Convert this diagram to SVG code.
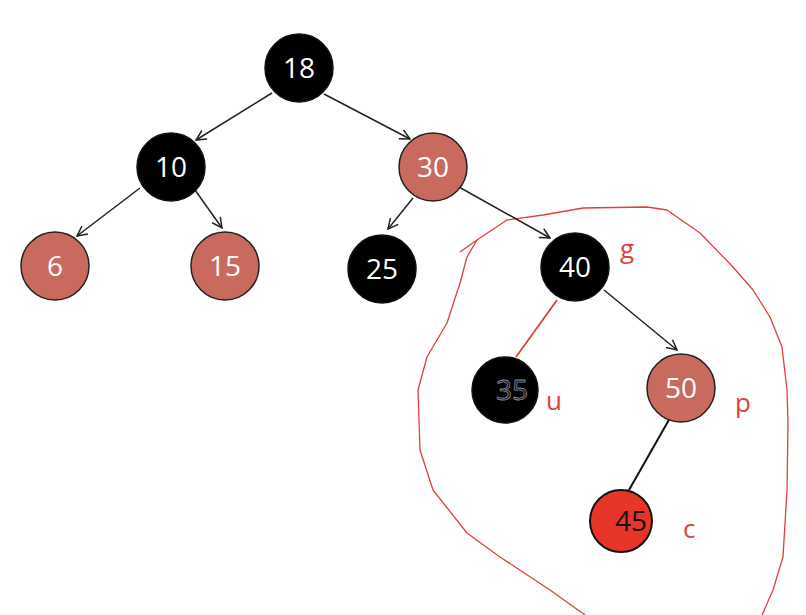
<svg xmlns="http://www.w3.org/2000/svg" width="806" height="615" viewBox="0 0 806 615">
<defs>
<marker id="arr" viewBox="0 0 12 12" refX="11" refY="6" markerWidth="12" markerHeight="12" markerUnits="userSpaceOnUse" orient="auto">
<path d="M1,1 L11,6 L1,11" fill="none" stroke="#222" stroke-width="1.5"/>
</marker>
<style>
.blk{fill:#000;stroke:#111;stroke-width:1.5}
.red{fill:#c96a5e;stroke:#222;stroke-width:1.5}
.hot{fill:#e8352a;stroke:#111;stroke-width:2}
.t{font-family:"Open Sans","Liberation Sans",sans-serif;font-size:28px;text-anchor:middle;fill:#fff}
.td{fill:#111}
.tg{fill:#111;stroke:#8a8aa0;stroke-width:0.8}
.lbl{font-family:"Open Sans","Liberation Sans",sans-serif;font-size:26px;fill:#e0403a}
.e{stroke:#222;stroke-width:1.5;fill:none}
</style>
</defs>
<rect width="806" height="615" fill="#fff"/>
<path d="M460,252 L477,240 L507,220 L543,215 L583,208 L647,207 L667,210 L700,233 L733,267 L753,290 L770,317 L782,347 L787,390 L788,423 L787,490 L783,557 L773,590 L762,615 M477,240 L467,257 L460,283 L447,323 L427,357 L418,390 L420,450 L433,490 L467,533 L500,557 L550,590 L585,615" fill="none" stroke="#e0403a" stroke-width="1.3" stroke-linejoin="round"/>
<g id="edges">
<line class="e" x1="272" y1="93" x2="196" y2="140" marker-end="url(#arr)"/>
<line class="e" x1="324" y1="94" x2="410" y2="139" marker-end="url(#arr)"/>
<line class="e" x1="140" y1="188" x2="77" y2="236" marker-end="url(#arr)"/>
<line class="e" x1="195" y1="190" x2="222" y2="228" marker-end="url(#arr)"/>
<line class="e" x1="413" y1="198" x2="388" y2="229" marker-end="url(#arr)"/>
<line class="e" x1="459" y1="187" x2="550" y2="238" marker-end="url(#arr)"/>
<line x1="557" y1="300" x2="516" y2="357" stroke="#e0403a" stroke-width="1.8"/>
<line class="e" x1="604" y1="290" x2="677" y2="350" marker-end="url(#arr)"/>
<line x1="670" y1="418" x2="629" y2="490" stroke="#111" stroke-width="2"/>
</g>
<g id="n18"><circle class="blk" cx="299" cy="68" r="34"/><text class="t" x="299" y="78">18</text></g>
<g id="n10"><circle class="blk" cx="171" cy="167" r="34"/><text class="t" x="171" y="177">10</text></g>
<g id="n30"><circle class="red" cx="433" cy="167" r="34"/><text class="t" x="433" y="177">30</text></g>
<g id="n6"><circle class="red" cx="55" cy="266" r="34"/><text class="t" x="55" y="276">6</text></g>
<g id="n15"><circle class="red" cx="225" cy="266" r="34"/><text class="t" x="225" y="276">15</text></g>
<g id="n25"><circle class="blk" cx="382" cy="269" r="34"/><text class="t" x="382" y="279">25</text></g>
<g id="n40"><circle class="blk" cx="575" cy="267" r="34"/><text class="t" x="575" y="277">40</text><text class="lbl" x="620" y="258">g</text></g>
<g id="n35"><circle class="blk" cx="505" cy="390" r="33"/><text class="t tg" x="512" y="400">35</text><text class="lbl" x="546" y="410">u</text></g>
<g id="n50"><circle class="red" cx="681" cy="388" r="34"/><text class="t" x="681" y="398">50</text><text class="lbl" x="735" y="412">p</text></g>
<g id="n45"><circle class="hot" cx="621" cy="521" r="31"/><text class="t td" x="631" y="531">45</text><text class="lbl" x="683" y="538">c</text></g>
</svg>
